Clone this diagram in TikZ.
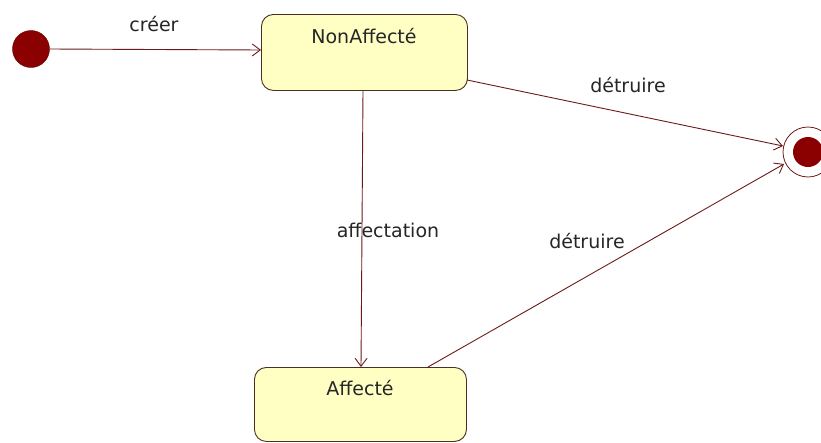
\documentclass[tikz,border=0pt]{standalone}
\usepackage{fontspec}
\setmainfont{DejaVu Sans}
\usetikzlibrary{arrows.meta}
\definecolor{lineC}{HTML}{6E1A1A}
\definecolor{dotC}{HTML}{8B0000}
\definecolor{boxFill}{HTML}{FFFFC4}
\definecolor{boxLine}{HTML}{4A3020}
\tikzset{
  statebox/.style={draw=boxLine, fill=boxFill, rounded corners=12pt, line width=0.9pt},
  trans/.style={draw=lineC, line width=0.9pt, -{Straight Barb[length=8pt,width=12pt]}},
  lbl/.style={font=\fontsize{19}{22}\selectfont, text=black!85, anchor=base, inner sep=0pt},
}
\begin{document}
\begin{tikzpicture}[x=1pt,y=-1pt]
\useasboundingbox (0,0) rectangle (821,442);
\fill[white] (0,0) rectangle (821,442);
% initial state
\node[circle, fill=dotC, draw=dotC!70!black, minimum size=37pt, inner sep=0pt] (init) at (31,49) {};
% states
\node[statebox, minimum width=206pt, minimum height=76pt, anchor=north west] (na) at (261,14) {};
\node[lbl] (natext) at (364,43) {NonAffecté};
\node[statebox, minimum width=212pt, minimum height=74pt, anchor=north west] (af) at (254,367) {};
\node[lbl] (aftext) at (360,395) {Affecté};
% final state
\node[circle, draw=lineC, fill=white, line width=0.8pt, minimum size=50pt, inner sep=0pt] (fin) at (808,152) {};
\node[circle, fill=dotC, minimum size=30pt, inner sep=0pt] (finin) at (fin.center) {};
% transitions
\coordinate (c1) at (261,50);
\draw[trans] (init.east) -- (c1);
\node[lbl] (l1) at (154,31) {créer};
\coordinate (na1) at (467,80);
\coordinate (fin1) at (783,146);
\draw[trans] (na1) -- (fin1);
\node[lbl] (l2) at (628,92) {détruire};
\coordinate (na2) at (363,90);
\coordinate (af2) at (361,367);
\draw[trans] (na2) -- (af2);
\node[lbl] (l3) at (388,237) {affectation};
\coordinate (af3) at (428,367);
\coordinate (fin3) at (784,164);
\draw[trans] (af3) -- (fin3);
\node[lbl] (l4) at (587,248) {détruire};
\end{tikzpicture}
\end{document}
